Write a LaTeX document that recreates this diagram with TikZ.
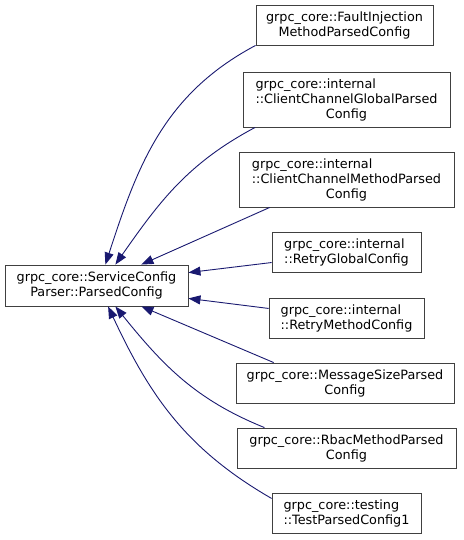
\documentclass[tikz,border=0pt]{standalone}
\usepackage{fontspec}
\setmainfont{DejaVu Sans}
\usetikzlibrary{arrows.meta, positioning, calc}
\definecolor{edgecolor}{RGB}{25, 25, 112}
\definecolor{boxcolor} {RGB}{64, 64, 64}
\tikzset{
	baseblock/.style={
		rectangle, inner sep=0pt,
		align=center, font=\fontsize{12.8}{15}\selectfont,
		draw=boxcolor, line width=0.9pt, fill=white
	},
	arrow/.style={
		-{Triangle[length=12pt, width=9pt]}, line width=0.9pt, color=edgecolor
	}
}

\begin{document}
\begin{tikzpicture}[x=1pt, y=1pt]
	\useasboundingbox (0,0) rectangle (463,-540);
	%% ═══════════════════════════════
	%%  BASE CLASS
	%% ═══════════════════════════════
	\node[baseblock, minimum width=183pt, minimum height=41pt]
	(base) at (96.5,-285.5) {grpc\_core::ServiceConfig\\Parser::ParsedConfig};
	
	%% ═══════════════════════════════
	%%  DERIVED CLASSES (right column)
	%% ═══════════════════════════════
	\node[baseblock, minimum width=177pt, minimum height=40pt]
	(fault) at (344.5,-25) {grpc\_core::FaultInjection\\MethodParsedConfig};
	
	\node[baseblock, minimum width=207pt, minimum height=55pt]
	(ccglobal) at (346.5,-99.5) {\rlap{grpc\_core::internal}\phantom{::ClientChannelGlobalParsed}\\::ClientChannelGlobalParsed\\Config};
	
	\node[baseblock, minimum width=215pt, minimum height=55pt]
	(ccmethod) at (346.5,-179.5) {\rlap{grpc\_core::internal}\phantom{::ClientChannelMethodParsed}\\::ClientChannelMethodParsed\\Config};
	
	\node[baseblock, align=left, minimum width=149pt, minimum height=40pt]
	(retryglobal) at (346.5,-252) {grpc\_core::internal\\::RetryGlobalConfig};
	
	\node[baseblock, align=left, minimum width=155pt, minimum height=40pt]
	(retrymethod) at (346.5,-318) {grpc\_core::internal\\::RetryMethodConfig};
	
	\node[baseblock, minimum width=218pt, minimum height=40pt]
	(msgsize) at (345,-383) {grpc\_core::MessageSizeParsed\\Config};
	
	\node[baseblock, minimum width=219pt, minimum height=40pt]
	(rbac) at (346.5,-448) {grpc\_core::RbacMethodParsed\\Config};
	
	\node[baseblock, align=left, minimum width=149pt, minimum height=40pt]
	(testcfg) at (346.5,-513) {grpc\_core::testing\\::TestParsedConfig1};
	
	%% ═══════════════════════════════
	%%  ARROWS
	%% ═══════════════════════════════
	
	% upper group → top of base
	\draw[arrow] (fault.south west) to[out=208, in=72] (base.67);
	\draw[arrow] (ccglobal.197) to[out=208, in=55] (base.48);
	\draw[arrow] (ccmethod.200) -- (base.25);
	
	% retry configs → right side of base
	\draw[arrow] (retryglobal.188) -- (base.8);
	\draw[arrow] (retrymethod.173) -- (base.-8);
	
	% lower group → bottom of base
	\draw[arrow] (msgsize.164) -- (base.-25);
	\draw[arrow] (rbac.166) to[out=158, in=-51] (base.-48);
	\draw[arrow] (testcfg.169) to[out=150, in=-65] (base.-61);
	
\end{tikzpicture}
\end{document}
